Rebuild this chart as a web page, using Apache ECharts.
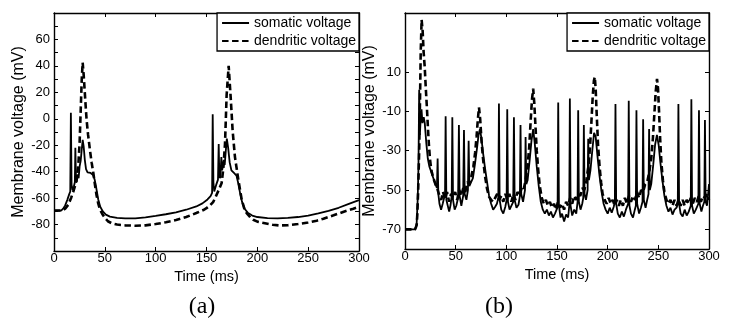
<!DOCTYPE html>
<html><head><meta charset="utf-8">
<script src="https://cdn.jsdelivr.net/npm/echarts@6/dist/echarts.min.js"></script>
<style>html,body{margin:0;padding:0;background:#fff}#c{width:731px;height:325px}</style>
</head><body><div id="c"></div>
<script>
// ---------- data (time in ms, voltage in mV) ----------
const somaticA = [[0,-69.5],[7,-69.5],[9,-68],[11,-65.5],[13,-61.5],[15,-57],[16,-55],[16.6,4.5],[17.3,-50],[18.2,-54],[19.6,-51],[20.5,-48],[21,-22],[21.6,-45],[22.4,-48],[23.4,-42],[24.2,-45],[25.2,-36],[26.2,-32],[27.2,-24],[28.2,-16],[29.2,-21],[30.3,-31],[31.5,-38],[33,-40.5],[36,-41],[38.5,-42.5],[40,-46],[41.5,-52],[43.5,-61],[45.5,-66.5],[48,-70],[51,-72.5],[55,-74],[62,-75],[70,-75.3],[80,-75.3],[90,-74.6],[100,-73.5],[110,-72.2],[120,-70.7],[130,-68.8],[140,-66.3],[146,-64],[151,-61],[154,-58.5],[155.5,-56],[156.1,3.5],[156.8,-48],[157.6,-55],[159.5,-50],[161.3,-46],[162,-19],[162.6,-43],[163.6,-45],[164.6,-29],[165.3,-39],[166.2,-36],[167,-31],[167.9,-35],[169,-24],[170,-15],[171.3,-22],[172.8,-33],[174.5,-39],[177,-41],[179.5,-43],[181,-48],[183,-56],[185,-63],[187.5,-68],[190.5,-71],[195,-73.2],[200,-74.3],[210,-75.1],[220,-75.3],[230,-75],[240,-74.3],[250,-73.2],[260,-71.6],[270,-69.6],[280,-67.3],[290,-64.3],[300,-61.5]];
const dendriticA = [[0,-69.5],[8,-69.3],[11,-68],[14,-65],[17,-59.5],[19,-55],[20.6,-51],[22.5,-44],[24,-34],[25.2,-18],[26.2,5],[27.3,30],[28.2,42.5],[29.2,33],[30.2,21],[31.2,9],[32.1,-1],[33.5,-12],[35.4,-24],[37,-33],[38.7,-41],[40.3,-50],[41.9,-58],[43.5,-64],[45.2,-68.5],[47.5,-72],[50.1,-75],[53,-77.5],[56.7,-79],[62,-80],[70,-80.6],[80,-80.9],[90,-80.6],[100,-79.6],[110,-78.3],[120,-76.6],[130,-74.3],[140,-71.3],[146.9,-69],[150,-67.6],[153.4,-65.5],[156.5,-63],[158.5,-60],[160,-58.5],[162.5,-53],[164.9,-48.5],[166.5,-38],[168.2,-19],[169.8,18],[171.8,40],[173.8,16],[175.7,-9],[178,-29],[181.3,-46],[184.6,-61],[187,-67.5],[189.5,-71.4],[193,-74.5],[196,-76.4],[200,-77.8],[207.5,-79],[215,-80.2],[222,-80.7],[230,-80.5],[240,-79.6],[250,-78.4],[258.4,-77.1],[265,-75.6],[275,-73],[285,-70.3],[294.4,-68],[300,-66.6]];
const somaticB = [[0,-70],[10,-70],[11.5,-67],[12.5,-55],[13.3,-38],[14,1],[14.7,-22],[15.5,-13],[16.3,-9],[17.2,-16],[18.5,-13],[19.5,-16],[21,-26],[22.5,-34],[24,-38],[26,-41],[28,-44],[30,-47],[31.5,-49],[32.2,-34],[32.9,-52],[34,-57],[35.6,-60],[37.2,-57],[38.6,-54],[39.5,-52],[40.1,-12.5],[40.8,-55],[42.2,-58],[43.6,-61],[45,-57.5],[46.1,-53],[46.7,-13],[47.4,-55],[49,-60],[50.6,-58],[52.4,-54],[53.2,-17],[53.9,-53],[55.6,-58],[57.4,-53],[58.2,-19.5],[58.9,-52],[60.6,-55],[62.1,-50],[62.8,-25],[63.5,-48],[65,-49],[67,-44],[69,-37],[71,-29],[72.6,-22],[74,-19],[75.5,-24],[77,-31],[79,-39],[81,-46],[83,-53],[85,-57],[87,-60],[89,-58.5],[90.7,-57],[92.1,-54],[92.7,-6],[93.4,-55],[95,-60],[97,-62],[99,-58.5],[100.3,-55],[100.9,-9],[101.6,-56],[103.2,-60],[105,-61],[106.8,-56],[107.5,-13],[108.2,-55],[110,-59],[112,-57.5],[113.4,-53],[114,-17],[114.7,-52],[116.5,-56],[118.4,-50],[119,-23],[119.7,-47],[121,-45],[123,-35],[124.8,-25],[126.5,-19],[128,-26],[130,-38],[132,-48],[134,-56],[136,-60],[138,-62],[140,-60],[142,-63],[144,-61],[146,-64],[148,-62],[150,-59.5],[150.6,-58],[151.2,-5.5],[151.9,-58],[153.5,-64],[155,-62],[157,-66],[159,-62.5],[161,-64],[162.1,-58],[162.7,-3.5],[163.4,-58],[165,-63],[167,-60],[169,-62],[170.3,-56],[170.9,-9.5],[171.6,-56],[173.2,-60],[174.9,-57],[175.9,-54],[176.5,-17],[177.2,-52],[178.6,-55],[180.2,-50],[180.8,-24],[181.5,-45],[183,-40],[185,-29],[186.6,-21],[188.2,-23],[190,-33],[192,-43],[194,-51],[196,-57],[198,-60],[200,-62],[202,-59],[204,-61.5],[206,-58.5],[207.1,-56],[207.7,-6.3],[208.4,-57],[210,-62],[212,-64],[214,-61],[216,-63.5],[218,-60],[220.2,-57],[220.8,-4.6],[221.5,-58],[223,-62],[225,-64],[226.8,-60],[227.8,-58],[228.4,-9.4],[229.1,-57],[231,-62],[232.8,-59],[234.4,-56],[235,-14],[235.7,-55],[237.4,-59],[239,-55],[240.3,-52],[240.9,-19],[241.6,-50],[243,-47],[245,-37],[246.8,-27],[248.6,-22],[250.3,-27],[252,-36],[254,-45],[256,-53],[258,-58],[260,-61],[262,-59],[264,-62.5],[266,-60],[268,-59],[269.2,-57],[269.8,-6.3],[270.5,-57],[272,-62],[274,-63.5],[276,-60],[278,-63],[280,-61],[282,-58],[282.6,-3.9],[283.3,-58],[285,-62],[287,-60],[289.5,-57],[290.1,-9.4],[290.8,-57],[292.5,-61],[294,-58],[295.4,-56],[296,-14.4],[296.7,-56],[298,-58],[299,-53],[300,-47]];
const dendriticB = [[0,-70],[10,-70],[11.5,-68],[12.2,-62],[13,-50],[14,-30],[14.8,-5],[15.5,20],[16.4,36.5],[17.4,31],[18.4,20],[19.4,13],[20.5,2],[21.6,-8],[22.6,-18],[23.6,-27],[24.6,-34],[26,-40],[28,-44],[30,-47],[32,-49.5],[34,-53],[35.8,-55],[37.5,-51],[39.5,-54.5],[41.5,-51],[43.5,-56],[45.5,-52],[47.5,-54],[49.5,-51],[51.5,-55],[53.5,-50],[55.5,-53],[57.5,-49],[59.5,-51],[61.5,-46],[63.5,-47],[65.5,-43],[67.5,-38],[69.2,-31],[70.6,-23],[71.9,-14],[73,-8],[74.2,-14],[75.5,-25],[77,-34],[79,-43],[81,-49.5],[83,-53.5],[85,-55],[87,-56],[89,-54],[91,-52],[93,-55],[95,-53],[97,-56],[99,-52],[101,-55],[103,-52],[105,-56],[107,-52],[109,-55],[111,-51],[113,-53],[115,-49],[117,-50],[119,-45],[121,-38],[122.6,-28],[124,-15],[125.3,-4],[126.5,1.5],[127.6,-6],[128.8,-18],[130,-30],[131.5,-40],[133,-48],[135,-54],[137,-57],[139,-55],[141,-58],[143,-56],[145,-59],[147,-57],[149,-60],[151,-56],[153,-59],[155,-57],[157,-60],[159,-56],[161,-58],[163,-54],[165,-57],[167,-53],[169,-55],[171,-52],[173,-53],[175,-49],[177,-50],[179,-45],[181,-38],[182.6,-28],[184,-15],[185.3,-2],[186.4,5.5],[187.3,7.5],[188.2,1],[189.3,-13],[190.5,-27],[192,-38],[193.5,-46],[195,-52],[197,-55],[199,-57],[201,-54],[203,-57],[205,-55],[207,-58],[209,-55],[211,-58],[213,-55],[215,-58],[217,-54],[219,-57],[221,-53],[223,-56],[225,-53],[227,-55],[229,-51],[231,-54],[233,-50],[235,-51],[237,-47],[239,-46],[241,-41],[243,-34],[244.6,-24],[246,-12],[247.4,0],[248.7,6.5],[249.7,1.5],[250.7,-10],[251.8,-24],[253,-36],[254.5,-45],[256,-51],[258,-55],[260,-57],[262,-55],[264,-58],[266,-55],[268,-58],[270,-55],[272,-58],[274,-55],[276,-58],[278,-55],[280,-57],[282,-54],[284,-57],[286,-54],[288,-56],[290,-53],[292,-56],[294,-53],[296,-54],[298,-52],[300,-55]];
const xTicks = [0,50,100,150,200,250,300];
const yLabelsA = [-80,-60,-40,-20,0,20,40,60];
const yTickMarksA = [-100,-90,-80,-70,-60,-50,-40,-30,-20,-10,0,10,20,30,40,50,60,70,80];
const yLabelsB = [-70,-50,-30,-10,10];
const seriesNames = ['somatic voltage','dendritic voltage'];
const panelLabels = ['(a)','(b)'];
const xName = 'Time (ms)';
const yName = 'Membrane voltage (mV)';

const SANS = '"Liberation Sans", Arial, sans-serif';
const FS = {tick:13, xname:14.5, yname:16, legend:14};

const chart = echarts.init(document.getElementById('c'), null, {renderer:'canvas'});
const lineAx = {show:true, onZero:false, lineStyle:{color:'#000', width:1.4}};
const tickSt = {inside:true, length:4, lineStyle:{color:'#000', width:1}};

function xAx(grid, bottom){
  return {
    gridIndex:grid, type:'value', min:0, max:300, interval:50,
    position: bottom ? 'bottom' : 'top',
    axisLine: lineAx,
    axisTick: Object.assign({}, tickSt, {customValues: xTicks}),
    axisLabel: bottom ? {show:true, customValues: xTicks, color:'#000', fontFamily:SANS, fontSize:FS.tick, margin:1} : {show:false},
    splitLine:{show:false},
    name: bottom ? xName : '', nameLocation:'middle', nameGap:8,
    nameTextStyle:{color:'#000', fontFamily:SANS, fontSize:FS.xname}
  };
}
function yAx(grid, left, min, max, labels, ticks){
  return {
    gridIndex:grid, type:'value', min:min, max:max,
    position: left ? 'left' : 'right',
    axisLine: lineAx,
    axisTick: Object.assign({}, tickSt, {customValues: ticks}),
    axisLabel: left ? {show:true, customValues: labels, color:'#000', fontFamily:SANS, fontSize:FS.tick, margin:4} : {show:false},
    splitLine:{show:false},
    name: left ? yName : '', nameLocation:'middle', nameGap:27, nameRotate:90,
    nameTextStyle:{color:'#000', fontFamily:SANS, fontSize:FS.yname}
  };
}
function legendAt(right){
  return {
    data: seriesNames, orient:'vertical', right:right, top:13,
    itemWidth:27, itemHeight:12, itemGap:4, padding:[3,3,3,4],
    borderColor:'#000', borderWidth:1.3, backgroundColor:'#fff',
    selectedMode:false,
    itemStyle:{opacity:0},
    textStyle:{color:'#000', fontFamily:SANS, fontSize:FS.legend}
  };
}
function ser(name, data, xi, yi, dashed){
  return {
    type:'line', name:name, data:data, xAxisIndex:xi, yAxisIndex:yi,
    symbol:'none', showSymbol:false, smooth:false, animation:false, z: dashed ? 3 : 2,
    lineStyle: dashed ? {color:'#000', width:2.6, type:[6.5,3.5]} : {color:'#000', width:1.8},
    itemStyle:{color:'#000'}
  };
}

chart.setOption({
  animation:false,
  backgroundColor:'#fff',
  grid:[
    {left:54, top:13, width:305, height:238, containLabel:false},
    {left:405, top:13, width:304, height:236, containLabel:false}
  ],
  xAxis:[xAx(0,true), xAx(0,false), xAx(1,true), xAx(1,false)],
  yAxis:[
    yAx(0,true,-100,80,yLabelsA,yTickMarksA), yAx(0,false,-100,80,yLabelsA,yTickMarksA),
    yAx(1,true,-80,40,yLabelsB,yLabelsB), yAx(1,false,-80,40,yLabelsB,yLabelsB)
  ],
  legend:[legendAt(372), legendAt(22)],
  series:[
    ser(seriesNames[0], somaticA, 0, 0, false),
    ser(seriesNames[1], dendriticA, 0, 0, true),
    ser(seriesNames[0], somaticB, 2, 2, false),
    ser(seriesNames[1], dendriticB, 2, 2, true)
  ],
  graphic:[
    {type:'text', x:202, y:307, style:{text:panelLabels[0], fontSize:24, fontFamily:'"Liberation Serif", "Times New Roman", serif', fill:'#000', align:'center', verticalAlign:'middle'}},
    {type:'text', x:499, y:307, style:{text:panelLabels[1], fontSize:24, fontFamily:'"Liberation Serif", "Times New Roman", serif', fill:'#000', align:'center', verticalAlign:'middle'}}
  ]
});
</script>
</body></html>
